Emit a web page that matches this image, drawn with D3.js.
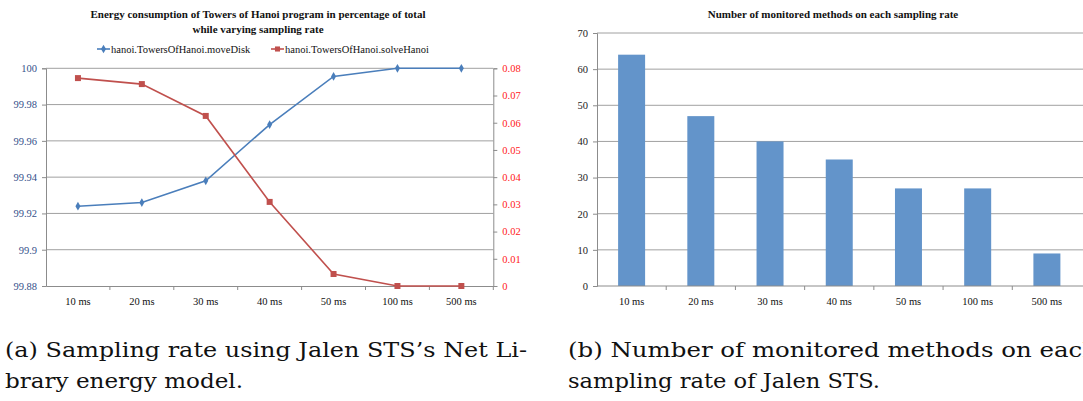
<!DOCTYPE html>
<html><head><meta charset="utf-8">
<script src="https://cdn.jsdelivr.net/npm/d3@7"></script>
<style>body{margin:0;background:#fff}svg{display:block}
.sf{font-family:"Liberation Serif","Times New Roman",Times,serif}</style>
</head><body>
<script>
const categories = ["10 ms","20 ms","30 ms","40 ms","50 ms","100 ms","500 ms"];
const moveDisk = [99.924, 99.926, 99.938, 99.969, 99.9955, 100, 100];
const solveHanoi = [0.0764, 0.0742, 0.0625, 0.0309, 0.0044, 0, 0];
const leftTicks = [99.88, 99.9, 99.92, 99.94, 99.96, 99.98, 100];
const rightTicks = [0, 0.01, 0.02, 0.03, 0.04, 0.05, 0.06, 0.07, 0.08];
const methodCounts = [64, 47, 40, 35, 27, 27, 9];
const barTicks = [0, 10, 20, 30, 40, 50, 60, 70];
const seriesNames = ["hanoi.TowersOfHanoi.moveDisk", "hanoi.TowersOfHanoi.solveHanoi"];
const titleA = ["Energy consumption of Towers of Hanoi program in percentage of total", "while varying sampling rate"];
const titleB = "Number of monitored methods on each sampling rate";
const captionA = ["(a) Sampling rate using Jalen STS\u2019s Net Li-", "brary energy model."];
const captionB = ["(b) Number of monitored methods on each", "sampling rate of Jalen STS."];

const W = 1083, H = 401;
const svg = d3.select("body").append("svg").attr("width", W).attr("height", H);
const SERIF = "Liberation Serif";
const grid = "#a0a0a0", axisC = "#8c8c8c";
const blue = "#4a7ebb", red = "#c0504d";
function sfont(sel, size, weight) {
  sel.attr("font-family", SERIF).style("font-family", "'Liberation Serif', serif")
     .style("font-size", size + "px").style("font-weight", weight || "normal");
}

// ---------- Chart A ----------
const xA = d3.scaleBand().domain(categories).range([46, 493.3]).padding(0);
const yL = d3.scaleLinear().domain([99.88, 100]).range([286, 68.3]);
const yR = d3.scaleLinear().domain([0, 0.08]).range([286, 68.3]);
const gA = svg.append("g");

gA.append("g").selectAll("line").data(leftTicks.slice(1)).join("line")
  .attr("x1", 46).attr("x2", 493.3).attr("y1", d => yL(d)).attr("y2", d => yL(d))
  .attr("stroke", grid).attr("stroke-width", 1);

const axL = gA.append("g").attr("transform", "translate(46,0)")
  .call(d3.axisLeft(yL).tickValues(leftTicks).tickSize(4).tickPadding(5).tickFormat(d => String(+d.toFixed(2))));
axL.attr("font-family", null);
axL.selectAll("text").attr("fill", "#34508a").call(sfont, 10.5);
const axR = gA.append("g").attr("transform", "translate(493.3,0)")
  .call(d3.axisRight(yR).tickValues(rightTicks).tickSize(4).tickPadding(5).tickFormat(d => String(+d.toFixed(2))));
axR.attr("font-family", null);
axR.selectAll("text").attr("fill", "#ff2020").call(sfont, 10.5);
const axXA = gA.append("g").attr("transform", "translate(0,286)")
  .call(d3.axisBottom(xA).tickSize(0).tickPadding(12));
axXA.attr("font-family", null);
axXA.selectAll("text").attr("fill", "#111").call(sfont, 10.5);
gA.append("g").selectAll("line").data(categories).join("line")
  .attr("x1", (d, i) => 46 + xA.bandwidth() * (i + 1)).attr("x2", (d, i) => 46 + xA.bandwidth() * (i + 1))
  .attr("y1", 286).attr("y2", 290).attr("stroke", axisC);
[axL, axR, axXA].forEach(a => { a.selectAll("path,line").attr("stroke", axisC); });

const cx = d => xA(d) + xA.bandwidth() / 2;
gA.append("path").datum(moveDisk).attr("fill", "none").attr("stroke", blue).attr("stroke-width", 1.6)
  .attr("d", d3.line().x((d, i) => cx(categories[i])).y(d => yL(d)));
gA.append("path").datum(solveHanoi).attr("fill", "none").attr("stroke", red).attr("stroke-width", 1.6)
  .attr("d", d3.line().x((d, i) => cx(categories[i])).y(d => yR(d)));
const diamond = d3.symbol().type(d3.symbolDiamond).size(22);
const square = d3.symbol().type(d3.symbolSquare).size(36);
gA.append("g").selectAll("path").data(moveDisk).join("path")
  .attr("transform", (d, i) => `translate(${cx(categories[i])},${yL(d)})`).attr("d", diamond).attr("fill", blue);
gA.append("g").selectAll("path").data(solveHanoi).join("path")
  .attr("transform", (d, i) => `translate(${cx(categories[i])},${yR(d)})`).attr("d", square).attr("fill", red);

// title A
gA.selectAll("text.title").data(titleA).join("text").attr("class", "title")
  .attr("x", 258).attr("y", (d, i) => 18 + i * 15).attr("text-anchor", "middle")
  .call(sfont, 11, "bold").attr("fill", "#111").text(d => d);

// legend A
const leg = [{x: 97, c: blue}, {x: 271, c: red}];
leg.forEach((l, i) => {
  const g = gA.append("g");
  g.append("line").attr("x1", l.x).attr("x2", l.x + 13).attr("y1", 49).attr("y2", 49).attr("stroke", l.c).attr("stroke-width", 1.6);
  g.append("path").attr("transform", `translate(${l.x + 6.5},49)`).attr("d", i ? d3.symbol().type(d3.symbolSquare).size(26)() : diamond()).attr("fill", l.c);
  g.append("text").attr("x", l.x + 14).attr("y", 52.5).call(sfont, 10.5).attr("fill", "#111").text(seriesNames[i]);
});

// ---------- Chart B ----------
const xB = d3.scaleBand().domain(categories).range([597, 1081.5]).padding(0);
const yB = d3.scaleLinear().domain([0, 70]).range([286, 33]);
const gB = svg.append("g");
gB.append("g").selectAll("line").data(barTicks.slice(1)).join("line")
  .attr("x1", 597).attr("x2", W).attr("y1", d => yB(d)).attr("y2", d => yB(d))
  .attr("stroke", grid).attr("stroke-width", 1);
const bw = xB.bandwidth() * 0.39;
gB.append("g").selectAll("rect").data(methodCounts).join("rect")
  .attr("x", (d, i) => xB(categories[i]) + xB.bandwidth() / 2 - bw / 2)
  .attr("width", bw).attr("y", d => yB(d)).attr("height", d => yB(0) - yB(d))
  .attr("fill", "#6394ca");
const axB = gB.append("g").attr("transform", "translate(597,0)")
  .call(d3.axisLeft(yB).tickValues(barTicks).tickSize(4).tickPadding(5));
axB.attr("font-family", null);
axB.selectAll("text").attr("fill", "#222").call(sfont, 10.5);
const axXB = gB.append("g").attr("transform", "translate(0,286)")
  .call(d3.axisBottom(xB).tickSize(0).tickPadding(12));
axXB.attr("font-family", null);
axXB.selectAll("text").attr("fill", "#111").call(sfont, 10.5);
axXB.select("path").attr("d", `M597,0H${W}`);
gB.append("g").selectAll("line").data(categories.slice(1)).join("line")
  .attr("x1", (d) => xB(d)).attr("x2", d => xB(d))
  .attr("y1", 286).attr("y2", 290).attr("stroke", axisC);
[axB, axXB].forEach(a => { a.selectAll("path,line").attr("stroke", axisC); });
gB.append("text").attr("x", 833).attr("y", 18).attr("text-anchor", "middle")
  .call(sfont, 11, "bold").attr("fill", "#111").text(titleB);

// ---------- Captions ----------
const capA = [{t: captionA[0], x: 5, y: 357, len: 522}, {t: captionA[1], x: 5, y: 388, len: 238}];
const capB = [{t: captionB[0], x: 568, y: 357, len: 530}, {t: captionB[1], x: 568, y: 388, len: 312}];
capA.concat(capB).forEach(c => {
  svg.append("text").attr("x", c.x).attr("y", c.y).attr("fill", "#111")
    .style("font-family", "'DejaVu Serif', serif").style("font-size", "21px")
    .attr("textLength", c.len).attr("lengthAdjust", "spacingAndGlyphs").text(c.t);
});
</script>
</body></html>
